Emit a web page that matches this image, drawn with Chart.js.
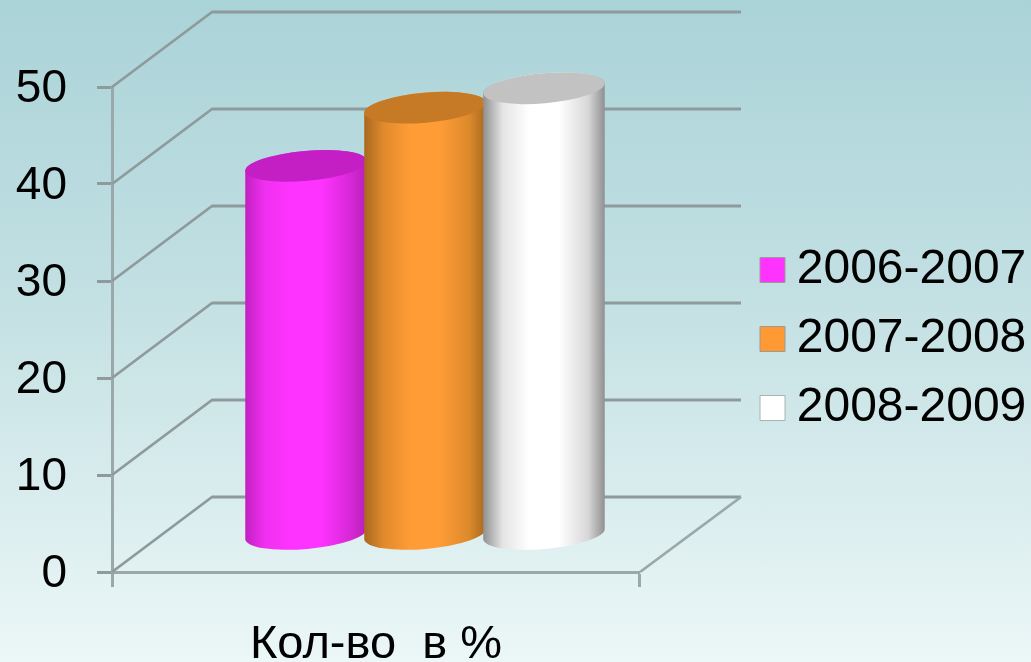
<!DOCTYPE html>
<html>
<head>
<meta charset="utf-8">
<script src="https://cdn.jsdelivr.net/npm/chart.js@4"></script>
<style>
html,body{margin:0;padding:0;width:1031px;height:662px;overflow:hidden;
background:linear-gradient(180deg,#aad3d8 0%,#c3e0e3 45%,#ecf7f7 100%);}
canvas{display:block;}
</style>
</head>
<body>
<canvas id="c" width="1031" height="662"></canvas>
<script>
const categories = ["Кол-во  в %"];
const seriesNames = ["2006-2007", "2007-2008", "2008-2009"];
const values2006 = [38];
const values2007 = [44];
const values2008 = [46];
const yTicks = [0, 10, 20, 30, 40, 50];
const legendColors = ["#ff33ff", "#ff9933", "#ffffff"];
const sideShades = [
  ["#c020c0", "#f030f0", "#ff33ff", "#ff33ff", "#d828d8", "#b81fb8"],
  ["#a8681f", "#e08a2c", "#ff9c36", "#ff9c36", "#dd8a2c", "#a8691f"],
  ["#8f8f8f", "#e4e4e4", "#ffffff", "#ffffff", "#d8d8d8", "#8f8f8f"]
];
const topShades = ["#c41fc4", "#c77a26", "#c2c2c2"];

const DX = 100, DY = 75, GRID = "#8e9a9c", GRID_LIGHT = "#9ba8aa";

const scene = {
  id: "scene",
  afterLayout(chart) {
    const l = chart.legend;
    l.left = 772.25 - l.options.labels.padding;
    l.top = 246 - l.options.labels.padding;
    l.right = chart.width;
    l.bottom = chart.height;
  },
  beforeDatasetsDraw(chart) {
    const { ctx, chartArea: a, scales: { y } } = chart;
    ctx.save();
    ctx.lineWidth = 2.8;
    ctx.strokeStyle = GRID;
    ctx.lineJoin = "round";
    yTicks.forEach(v => {
      const py = y.getPixelForValue(v);
      ctx.beginPath();
      ctx.moveTo(a.left, py);
      ctx.lineTo(a.left + DX, py - DY);
      ctx.lineTo(a.right + DX + 1, py - DY);
      ctx.stroke();
    });
    const p0 = y.getPixelForValue(0);
    ctx.strokeStyle = GRID_LIGHT;
    ctx.beginPath();
    ctx.moveTo(a.right, p0);
    ctx.lineTo(a.right + DX + 1, p0 - DY);
    ctx.stroke();
    ctx.restore();
  },
  beforeDatasetDraw() { return false; },
  afterDatasetsDraw(chart) {
    const ctx = chart.ctx;
    const rot = -5 * Math.PI / 180, ry = 15;
    chart.data.datasets.forEach((ds, i) => {
      chart.getDatasetMeta(i).data.forEach(bar => {
        const rx = bar.width / 2 + 1.5;
        const cx = bar.x + DX / 2 - 1;
        const top = bar.y - DY / 2, base = bar.base - DY / 2;
        const g = ctx.createLinearGradient(cx - rx, 0, cx + rx, 0);
        [0, .16, .38, .62, .86, 1].forEach((s, k) => g.addColorStop(s, sideShades[i][k]));
        ctx.save();
        ctx.beginPath();
        ctx.ellipse(cx, base, rx, ry, rot, Math.PI, 0, true);
        ctx.ellipse(cx, top, rx, ry, rot, 0, Math.PI, true);
        ctx.closePath();
        ctx.fillStyle = g;
        ctx.fill();
        ctx.beginPath();
        ctx.ellipse(cx, top, rx, ry, rot, 0, Math.PI * 2);
        ctx.fillStyle = topShades[i];
        ctx.fill();
        ctx.restore();
      });
    });
  }
};

new Chart(document.getElementById("c"), {
  type: "bar",
  data: {
    labels: categories,
    datasets: [
      { label: seriesNames[0], data: values2006, backgroundColor: legendColors[0], borderColor: "#9a9a9a", borderWidth: 1 },
      { label: seriesNames[1], data: values2007, backgroundColor: legendColors[1], borderColor: "#9a9a9a", borderWidth: 1 },
      { label: seriesNames[2], data: values2008, backgroundColor: legendColors[2], borderColor: "#a8b4b4", borderWidth: 1 }
    ]
  },
  options: {
    responsive: false,
    animation: false,
    events: [],
    layout: { padding: { top: 87, left: 0, right: 177.67, bottom: 0 } },
    categoryPercentage: 0.676,
    barPercentage: 1,
    plugins: {
      tooltip: { enabled: false },
      legend: {
        position: "right",
        align: "start",
        labels: {
          usePointStyle: true,
          pointStyle: "rect",
          boxWidth: 0.5,
          boxHeight: 25,
          padding: 21,
          color: "#000",
          font: { family: "'Liberation Sans', Arial, sans-serif", size: 48, lineHeight: 1 }
        }
      }
    },
    scales: {
      x: {
        grid: { display: true, offset: true, drawOnChartArea: false, drawTicks: true, tickLength: 15, tickWidth: 3, color: GRID_LIGHT },
        border: { display: true, color: GRID_LIGHT, width: 3 },
        ticks: { color: "#000", padding: 30, maxRotation: 0, font: { family: "'Liberation Sans', Arial, sans-serif", size: 47 } },
        afterFit(s) { s.height = 90; }
      },
      y: {
        min: 0, max: 50,
        afterBuildTicks(s) { s.ticks = yTicks.map(v => ({ value: v })); },
        grid: { display: true, drawOnChartArea: false, drawTicks: true, tickLength: 15, tickWidth: 3, color: GRID },
        border: { display: true, color: GRID_LIGHT, width: 3 },
        ticks: { color: "#000", padding: 30, font: { family: "'Liberation Sans', Arial, sans-serif", size: 46 } },
        afterFit(s) {
          s.width = 112;
          if (!s._nudged) {
            const compute = s._computeLabelItems;
            s._computeLabelItems = function (area) {
              const items = compute.call(this, area);
              items.forEach(it => { it.options.translation = [it.options.translation[0], it.options.translation[1] + 2]; });
              return items;
            };
            s._nudged = true;
          }
        }
      }
    }
  },
  plugins: [scene]
});
</script>
</body>
</html>
